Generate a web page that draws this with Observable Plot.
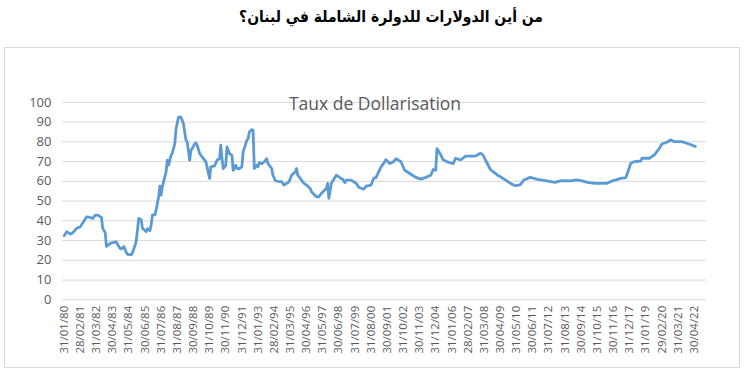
<!DOCTYPE html>
<html><head><meta charset="utf-8">
<script src="https://cdn.jsdelivr.net/npm/d3@7"></script>
<script src="https://cdn.jsdelivr.net/npm/@observablehq/plot@0.6"></script>
<style>
html,body{margin:0;padding:0;background:#fff;}
#wrap{position:relative;width:745px;height:387px;overflow:hidden;}
#title{position:absolute;top:8px;left:0;width:782px;text-align:center;font:bold 15.5px "DejaVu Sans Condensed","DejaVu Sans",sans-serif;color:#000;}
#box{position:absolute;left:4px;top:47px;width:736px;height:321px;border:1px solid #d9d9d9;box-sizing:border-box;}
#box svg{position:absolute;left:-1px;top:-1px;}
#ctitle{position:absolute;left:0;width:740px;top:43px;text-align:center;font:17.5px "Open Sans",sans-serif;color:#595959;}
</style></head>
<body><div id="wrap"><div id="title" dir="rtl">من أين الدولارات للدولرة الشاملة في لبنان؟</div><div id="box"><div id="ctitle">Taux de Dollarisation</div></div></div>
<script>
const chartTitle = "Taux de Dollarisation";
const dates = ["1980-01","1980-03","1980-06","1980-08","1980-11","1981-02","1981-04","1981-07","1981-10","1981-12","1982-02","1982-04","1982-07","1982-08","1982-10","1982-11","1983-02","1983-04","1983-07","1983-08","1983-10","1983-11","1984-01","1984-03","1984-04","1984-07","1984-08","1984-10","1984-11","1985-01","1985-03","1985-04","1985-07","1985-08","1985-10","1985-11","1985-12","1986-02","1986-03","1986-05","1986-06","1986-07","1986-08","1986-11","1986-12","1987-01","1987-03","1987-04","1987-06","1987-07","1987-09","1987-11","1988-01","1988-03","1988-04","1988-06","1988-07","1988-08","1988-10","1988-11","1988-12","1989-02","1989-04","1989-07","1989-08","1989-10","1989-11","1990-02","1990-04","1990-06","1990-07","1990-08","1990-09","1990-11","1990-12","1991-02","1991-04","1991-05","1991-07","1991-08","1991-10","1991-12","1992-01","1992-04","1992-05","1992-06","1992-08","1992-09","1992-10","1992-12","1993-01","1993-02","1993-04","1993-06","1993-08","1993-09","1993-10","1993-12","1994-01","1994-03","1994-06","1994-08","1994-10","1994-12","1995-02","1995-04","1995-07","1995-08","1995-09","1995-12","1996-02","1996-04","1996-07","1996-08","1996-12","1997-02","1997-04","1997-08","1997-09","1997-10","1997-12","1998-02","1998-04","1998-08","1998-09","1998-11","1998-12","1999-04","1999-08","1999-10","2000-02","2000-04","2000-08","2000-10","2000-12","2001-04","2001-06","2001-08","2001-11","2002-02","2002-04","2002-08","2002-11","2003-04","2003-08","2003-12","2004-04","2004-08","2004-10","2004-12","2005-01","2005-04","2005-06","2005-10","2006-02","2006-04","2006-08","2006-12","2007-08","2007-12","2008-02","2008-04","2008-08","2008-12","2009-02","2009-04","2009-08","2009-12","2010-04","2010-08","2010-11","2011-04","2011-10","2012-04","2012-12","2013-05","2014-01","2014-05","2014-09","2015-02","2015-08","2016-06","2016-10","2017-01","2017-05","2017-09","2017-10","2018-01","2018-04","2018-09","2018-10","2019-04","2019-08","2019-12","2020-02","2020-06","2020-09","2020-12","2021-06","2021-10","2022-02","2022-05"];
const values = [32.5,34.5,33.3,34,36.2,37,39,42,41.7,41.2,42.9,42.9,41.7,36.2,34,27,28.5,29,29.3,28,26,25.7,27,24,23,22.8,24,27.5,30,41.2,40.5,36.2,34.5,36,35,38,43,43,45.5,52.2,57.6,53,57.3,64.8,70.7,68.2,73.2,74.4,79,86.6,92.5,92.5,89,80.8,80,70.7,75.8,76.6,79,79.5,78.3,74.1,72.4,69.9,67.3,61.4,67.3,67.8,70.7,71.5,78.3,71.5,66.5,68,77.4,74,73.2,65.6,68.2,66.5,66.5,67.3,74.9,80.8,81.6,85,86.2,85.9,66.5,68.2,67.3,69.4,69,69.9,71.5,69,68.2,66.5,63.1,60.3,59.8,59.8,58.1,59,59.8,63.1,64.8,66.5,63.1,60.6,59,58.1,56.4,54.7,52.2,52.2,54,56.4,59,51.4,59,61,63.1,61.4,61.1,59.3,60.6,60.6,59,57,56,57.6,58.1,61.4,62,67.3,69,71,69,69.9,71.5,69.9,65.6,63.6,62,61.1,62,63.1,66,65.6,76.6,73.5,70.9,69.7,68.9,71.7,70.8,72.8,72.8,74.2,73.4,70.8,66,64,63,62.4,60.7,59,57.8,58.2,60.7,62,61,60.4,59.5,60.4,60.2,60.7,60.4,59.5,59,59,60.2,60.7,61.5,61.9,63.6,69.1,70,70.3,71.7,71.7,73.4,76.7,78.9,79.8,81,80.1,80.1,79.3,78.4,77.6];
const tickLabels = ["31/01/80","28/02/81","31/03/82","30/04/83","31/05/84","30/06/85","31/07/86","31/08/87","30/09/88","31/10/89","30/11/90","31/12/91","31/01/93","28/02/94","31/03/95","30/04/96","31/05/97","30/06/98","31/07/99","31/08/00","30/09/01","31/10/02","30/11/03","31/12/04","31/01/06","28/02/07","31/03/08","30/04/09","31/05/10","30/06/11","31/07/12","31/08/13","30/09/14","31/10/15","30/11/16","31/12/17","31/01/19","29/02/20","31/03/21","30/04/22"];
const yTicks = [0,10,20,30,40,50,60,70,80,90,100];

const monthIndex = s => { const [y,m] = s.split("-").map(Number); return (y-1980)*12 + (m-1); };
const labelIndex = s => { const [d,m,y] = s.split("/").map(Number); const yy = y < 50 ? 2000 + y : 1900 + y; return (yy-1980)*12 + (m-1); };
const data = dates.map((d,i) => ({x: monthIndex(d), v: values[i]}));
const tickIdx = tickLabels.map(labelIndex);
const labelOf = new Map(tickIdx.map((t,i) => [t, tickLabels[i]]));

const chart = Plot.plot({
  width: 736, height: 321,
  marginLeft: 58, marginRight: 32, marginTop: 55, marginBottom: 68,
  style: {fontFamily: "'Open Sans', sans-serif", background: "transparent"},
  x: {domain: [-1.5, 517], label: null},
  y: {domain: [0, 100], label: null},
  marks: [
    Plot.gridY(yTicks, {stroke: "#d9d9d9", strokeOpacity: 1, strokeWidth: 1}),
    Plot.axisY(yTicks, {tickSize: 0, tickPadding: 11, fontSize: 13, fill: "#595959", label: null}),
    Plot.axisX(tickIdx, {tickSize: 0, tickPadding: 6, tickRotate: -90, fontSize: 11.5, fill: "#595959", tickFormat: d => labelOf.get(d), label: null}),
    Plot.line(data, {x: "x", y: "v", stroke: "#5b9bd5", strokeWidth: 2.8, strokeLinejoin: "round", strokeLinecap: "round"})
  ]
});
document.getElementById("ctitle").textContent = chartTitle;
document.getElementById("box").prepend(chart);
</script></body></html>
